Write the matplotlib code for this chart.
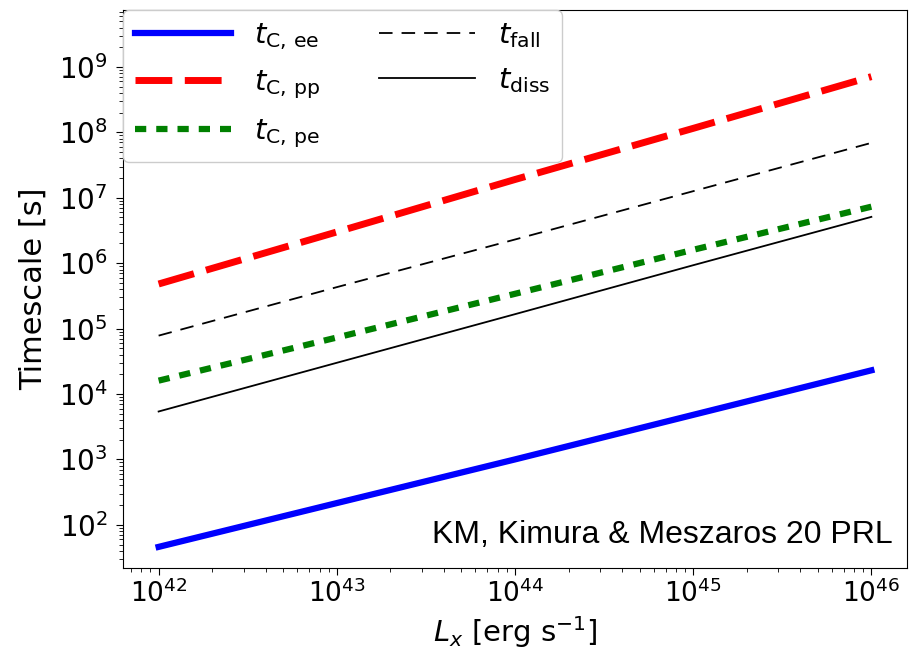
import matplotlib
matplotlib.use("Agg")
import matplotlib.pyplot as plt

plt.rcParams["font.family"] = ["DejaVu Sans"]
plt.rcParams["mathtext.fontset"] = "dejavusans"

# Data
L_x = [1e42, 1e43, 1e44, 1e45, 1e46]
t_C_ee = [46, 215, 1.0e3, 4.8e3, 2.3e4]
t_C_pp = [4.8e5, 3.0e6, 1.9e7, 1.15e8, 7.1e8]
t_C_pe = [1.6e4, 7.3e4, 3.4e5, 1.6e6, 7.3e6]
t_fall = [7.8e4, 4.3e5, 2.3e6, 1.26e7, 6.9e7]
t_diss = [5.4e3, 3.0e4, 1.66e5, 9.3e5, 5.1e6]

labels = [r"$t_{\rm C,\,ee}$", r"$t_{\rm C,\,pp}$", r"$t_{\rm C,\,pe}$",
          r"$t_{\rm fall}$", r"$t_{\rm diss}$"]

fig = plt.figure(figsize=(9.09, 6.54), dpi=100)
ax = fig.add_axes([0.1353, 0.1315, 0.8625, 0.8532])

ax.plot(L_x, t_C_ee, color="blue", lw=4.5, ls="-", label=labels[0])
ax.plot(L_x, t_C_pp, color="red", lw=5, dashes=(5.3, 1.8), label=labels[1])
ax.plot(L_x, t_C_pe, color="green", lw=4.5, dashes=(1.8, 1.6), label=labels[2])
ax.plot(L_x, t_fall, color="black", lw=1.3, dashes=(7.5, 5.0), label=labels[3])
ax.plot(L_x, t_diss, color="black", lw=1.3, ls="-", label=labels[4])

ax.set_xscale("log")
ax.set_yscale("log")
ax.set_xlim(10**41.8, 10**46.2)
ax.set_ylim(10**1.34, 10**9.87)
ax.set_yticks([10.0**k for k in range(2, 10)])
ax.set_xticks([10.0**k for k in range(42, 47)])
ax.tick_params(axis="both", which="major", labelsize=19, length=5)
ax.tick_params(axis="y", which="major", labelsize=20, pad=6)
ax.tick_params(axis="both", which="minor", length=3)

ax.set_xlabel(r"$L_x$ [erg s$^{-1}$]", fontsize=21, labelpad=4)
ax.set_ylabel("Timescale [s]", fontsize=22, labelpad=8)

leg = ax.legend(loc="upper left", ncol=2, fontsize=21, borderaxespad=0.0,
                handlelength=3.3, handletextpad=0.8, columnspacing=2.0,
                labelspacing=0.55, framealpha=1.0, edgecolor="#cccccc")

ax.text(0.982, 0.045, "KM, Kimura & Meszaros 20 PRL", transform=ax.transAxes,
        ha="right", va="baseline", fontsize=23, family="Liberation Sans")

fig.savefig("out.png", dpi=100)
